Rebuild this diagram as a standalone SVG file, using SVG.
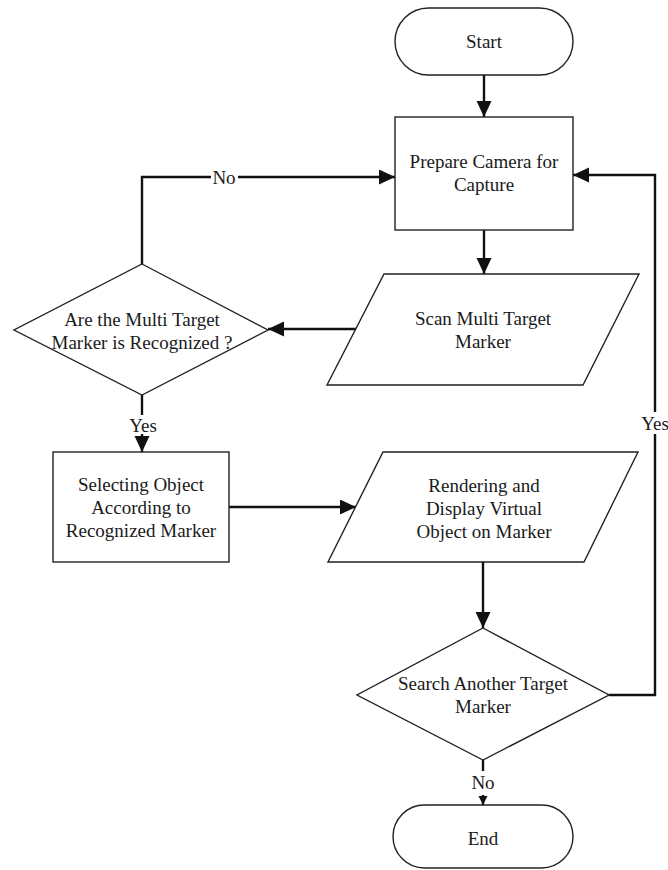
<svg xmlns="http://www.w3.org/2000/svg" width="668" height="870" viewBox="0 0 668 870">
  <defs>
    <style>
      .shape { fill: #ffffff; stroke: #222222; stroke-width: 1.4; }
      .wire { fill: none; stroke: #111111; stroke-width: 2.4; }
      .label { font-family: "Liberation Serif", "Times New Roman", serif; font-size: 19px; fill: #1a1a1a; text-anchor: middle; }
    </style>
    <marker id="arrow" markerUnits="userSpaceOnUse" markerWidth="17" markerHeight="16" refX="16" refY="7.5" orient="auto">
      <path d="M0,0 L16,7.5 L0,15 z" fill="#111111"/>
    </marker>
    <marker id="arrowSmall" markerUnits="userSpaceOnUse" markerWidth="10" markerHeight="10" refX="9" refY="4.5" orient="auto">
      <path d="M0,0 L9,4.5 L0,9 z" fill="#111111"/>
    </marker>
  </defs>

  <rect width="668" height="870" fill="#ffffff"/>

  <!-- connectors -->
  <g id="connectors">
    <path class="wire" d="M484,75 V117" marker-end="url(#arrow)"/>
    <path class="wire" d="M484,230 V274" marker-end="url(#arrow)"/>
    <path class="wire" d="M356,329 H268" marker-end="url(#arrow)"/>
    <path class="wire" d="M142,264 V177 H211"/>
    <path class="wire" d="M238,177 H395" marker-end="url(#arrow)"/>
    <path class="wire" d="M142,395 V415"/>
    <path class="wire" d="M142,434 V452" marker-end="url(#arrow)"/>
    <path class="wire" d="M229,507 H356" marker-end="url(#arrow)"/>
    <path class="wire" d="M483,562 V628" marker-end="url(#arrow)"/>
    <path class="wire" d="M609,695 H655 V434"/>
    <path class="wire" d="M655,412 V175 H573" marker-end="url(#arrow)"/>
    <path class="wire" d="M483,760 V771"/>
    <path class="wire" d="M483,795 V805" marker-end="url(#arrowSmall)"/>
    <text class="label" x="224" y="183.5">No</text>
    <text class="label" x="143" y="431.5">Yes</text>
    <text class="label" x="655" y="429.5">Yes</text>
    <text class="label" x="483" y="788.5">No</text>
  </g>

  <!-- nodes -->
  <g id="start">
    <rect class="shape" x="395" y="8" width="178" height="67" rx="33.5" ry="33.5"/>
    <text class="label" x="484" y="48">Start</text>
  </g>

  <g id="prepare-camera">
    <rect class="shape" x="395" y="117" width="178" height="113"/>
    <text class="label" x="484" y="168">Prepare Camera for</text>
    <text class="label" x="484" y="191">Capture</text>
  </g>

  <g id="scan-marker">
    <polygon class="shape" points="384,274 639,274 583,385 327,385"/>
    <text class="label" x="483" y="324.5">Scan Multi Target</text>
    <text class="label" x="483" y="347.5">Marker</text>
  </g>

  <g id="marker-recognized">
    <polygon class="shape" points="142,264 268,330 142,395 14,330"/>
    <text class="label" x="142" y="326">Are the Multi Target</text>
    <text class="label" x="142" y="349">Marker is Recognized ?</text>
  </g>

  <g id="select-object">
    <rect class="shape" x="53" y="452" width="176" height="110"/>
    <text class="label" x="141" y="490.5">Selecting Object</text>
    <text class="label" x="141" y="513.5">According to</text>
    <text class="label" x="141" y="536.5">Recognized Marker</text>
  </g>

  <g id="render-object">
    <polygon class="shape" points="383,452 638,452 584,562 328,562"/>
    <text class="label" x="484" y="491.5">Rendering and</text>
    <text class="label" x="484" y="514.5">Display Virtual</text>
    <text class="label" x="484" y="537.5">Object on Marker</text>
  </g>

  <g id="search-another">
    <polygon class="shape" points="483,628 609,695 483,760 357,695"/>
    <text class="label" x="483" y="689.5">Search Another Target</text>
    <text class="label" x="483" y="712.5">Marker</text>
  </g>

  <g id="end">
    <rect class="shape" x="393" y="805" width="180" height="63" rx="31.5" ry="31.5"/>
    <text class="label" x="483" y="844.5">End</text>
  </g>
</svg>
